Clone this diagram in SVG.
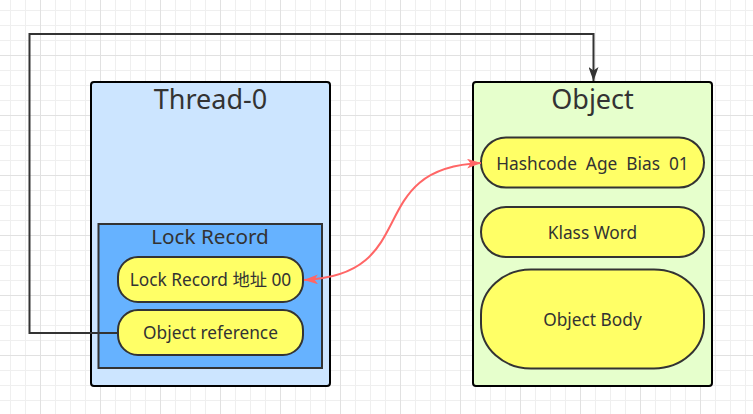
<svg xmlns="http://www.w3.org/2000/svg" width="753" height="414" viewBox="0 0 753 414">
<style>
  .t { font-family: "Noto Sans", "Noto Sans CJK SC", sans-serif; fill: #333333; text-anchor: middle; white-space: pre; }
  .title { font-size: 27px; }
  .sub { font-size: 20.7px; }
  .lbl { font-size: 17.3px; }
  .outer { stroke: #000000; stroke-width: 2; }
  .pill { fill: #ffff66; stroke: #333333; stroke-width: 2; }
  .conn { fill: none; stroke: #333333; stroke-width: 2; }
  .red { fill: none; stroke: #ff6666; stroke-width: 2; }
</style>
<defs>
  <pattern id="grid" patternUnits="userSpaceOnUse" x="10" y="10" width="60" height="60">
    <path d="M0.5 0V60M15.5 0V60M45.5 0V60M0 0.5H60M0 15.5H60M0 30.5H60" stroke="#efefef" stroke-width="1" fill="none"/>
    <path d="M30.5 0V60M0 45.5H60" stroke="#e1e1e1" stroke-width="1" fill="none"/>
  </pattern>
  <marker id="arrBlack" markerUnits="userSpaceOnUse" viewBox="0 0 14 10" markerWidth="14" markerHeight="10" refX="14" refY="5" orient="auto">
    <path d="M0 0L14 5L0 10L3.5 5Z" fill="#333333"/>
  </marker>
  <marker id="arrRed" markerUnits="userSpaceOnUse" viewBox="0 0 14 10" markerWidth="14" markerHeight="10" refX="14" refY="5" orient="auto-start-reverse">
    <path d="M0 0L14 5L0 10L3.5 5Z" fill="#ff6666"/>
  </marker>
</defs>
<rect x="0" y="0" width="753" height="414" fill="#ffffff"/>
<rect x="0" y="0" width="753" height="414" fill="url(#grid)"/>

<g id="thread0">
  <rect class="outer" x="91" y="82" width="239" height="304" rx="3" fill="#cce5ff"/>
  <text class="t title" x="210.5" y="109">Thread-0</text>
</g>
<g id="lockRecord">
  <rect x="98.5" y="224" width="223.5" height="144" fill="#66b2ff" stroke="#333333" stroke-width="2"/>
  <text class="t sub" x="210" y="244">Lock Record</text>
</g>
<g id="lockRecordAddr">
  <rect class="pill" x="118" y="257" width="185" height="45" rx="20" ry="20"/>
  <text class="t lbl" x="210.5" y="286">Lock Record 地址 00</text>
</g>
<g id="objectReference">
  <rect class="pill" x="118" y="310" width="185" height="45" rx="20" ry="20"/>
  <text class="t lbl" x="210.5" y="339">Object reference</text>
</g>
<g id="object">
  <rect class="outer" x="473" y="82" width="239" height="304" rx="3" fill="#e6ffcc"/>
  <text class="t title" x="592.5" y="109">Object</text>
</g>
<g id="hashcode">
  <rect class="pill" x="481" y="137.5" width="223" height="50" rx="25" ry="25"/>
  <text class="t lbl" x="592.5" y="170">Hashcode  Age  Bias  01</text>
</g>
<g id="klassWord">
  <rect class="pill" x="481" y="207" width="223" height="50" rx="25" ry="25"/>
  <text class="t lbl" x="592.5" y="238.5">Klass Word</text>
</g>
<g id="objectBody">
  <rect class="pill" x="481" y="269.5" width="223" height="99" rx="50" ry="45"/>
  <text class="t lbl" x="592.5" y="326">Object Body</text>
</g>

<g id="connectors">
  <path class="conn" d="M118 333H29.5V34H593.5V81" marker-end="url(#arrBlack)"/>
  <path class="red" d="M304 280C424 275 361 168 481 163" marker-start="url(#arrRed)" marker-end="url(#arrRed)"/>
</g>
</svg>
